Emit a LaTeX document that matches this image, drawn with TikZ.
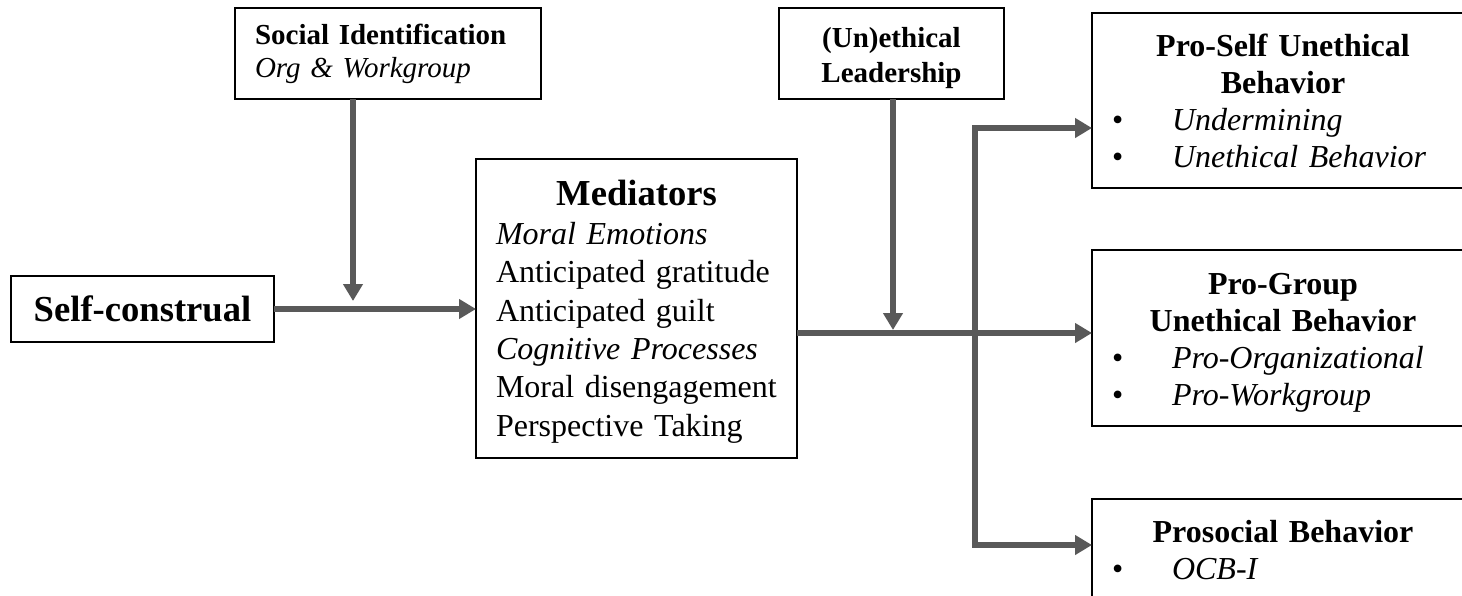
\documentclass[tikz,border=0pt]{standalone}
\usepackage{fontspec}
\setmainfont{Liberation Serif}
\usetikzlibrary{arrows.meta}
\definecolor{linkgray}{RGB}{89,89,89}
\newcommand\bitem[1]{\makebox[30pt][l]{\textbullet}\textit{#1}}

\begin{document}
\begin{tikzpicture}[x=0.5pt,y=-0.5pt,
    box/.style={draw,line width=1pt,inner sep=0pt,outer sep=0pt},
    outbox/.style={box,minimum width=191pt,text width=171pt,align=left,
      font=\fontsize{16}{18.5}\selectfont},
    arr/.style={draw=linkgray,line width=3pt,-{Triangle[length=8.5pt,width=9.5pt]}},
    twoarr/.style={arr,{Triangle[length=8.5pt,width=9.5pt]}-{Triangle[length=8.5pt,width=9.5pt]}}]
    \clip (0,0) rectangle (1462,595);
    \node[box,minimum width=131.5pt,minimum height=33pt,
      font=\fontsize{18.3}{22}\selectfont\bfseries] (selfc) at (142.5,309) {Self-construal};
    \node[box,minimum width=153pt,minimum height=45.5pt,text width=133pt,align=left,
      font=\fontsize{14.5}{16.5}\selectfont] (socid) at (388,53.5)
      {\textbf{Social Identification}\\\textit{Org \& Workgroup}};
    \node[box,minimum width=112.5pt,minimum height=45.5pt,align=center,
      font=\fontsize{14.5}{17.5}\selectfont\bfseries] (leader) at (891.5,53.5)
      {\rule{0pt}{15pt}(Un)ethical\\Leadership};
    \node[box,minimum width=160.5pt,minimum height=149.5pt,text width=140.5pt,align=left,
      font=\fontsize{16}{19.2}\selectfont] (med) at (636.5,308.5)
      {{\centering\fontsize{18.3}{22}\selectfont\bfseries\rule{0pt}{16pt}Mediators\par}
       \textit{Moral Emotions}\\
       Anticipated gratitude\\
       Anticipated guilt\\
       \textit{Cognitive Processes}\\
       Moral disengagement\\
       Perspective Taking};
    \node[outbox,minimum height=87.5pt] (proself) at (1283,100.5)
      {{\centering\bfseries Pro-Self Unethical\par Behavior\par}
       \bitem{Undermining}\\
       \bitem{Unethical Behavior}};
    \node[outbox,minimum height=88pt] (progroup) at (1283,338)
      {{\centering\bfseries\rule{0pt}{15pt}Pro-Group\par Unethical Behavior\par}
       \bitem{Pro-Organizational}\\
       \bitem{Pro-Workgroup}};
    \node[outbox,minimum height=51pt] (prosoc) at (1283,550)
      {{\centering\bfseries Prosocial Behavior\par}
       \bitem{OCB-I}};
    \coordinate (sj) at (353,309);
    \coordinate (lj) at (893,333);
    \coordinate (top) at (975,128);
    \coordinate (bot) at (975,545);
    \draw[arr] (selfc.east) -- (selfc.east -| med.west);
    \draw[arr,shorten >=4pt] (socid.south -| sj) -- (sj);
    \draw[arr] (med.east |- lj) -- (lj -| progroup.west);
    \draw[arr,shorten >=1.5pt] (leader.south -| lj) -- (lj);
    \draw[twoarr] (top -| proself.west) -- (top) -- (bot) -- (bot -| prosoc.west);
\end{tikzpicture}
\end{document}
